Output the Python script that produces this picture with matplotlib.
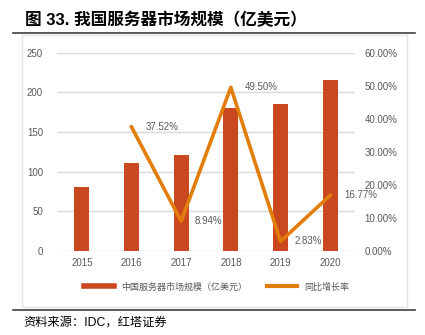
import matplotlib.pyplot as plt
from matplotlib.lines import Line2D
from matplotlib.patches import Rectangle
from matplotlib.ticker import FuncFormatter

plt.rcParams['font.family'] = ['Liberation Sans', 'Noto Sans CJK SC', 'DejaVu Sans']

years = ['2015', '2016', '2017', '2018', '2019', '2020']
market_size = [80.3, 110.4, 120.3, 179.8, 184.9, 215.9]
growth_years = ['2016', '2017', '2018', '2019', '2020']
growth = [37.52, 8.94, 49.50, 2.83, 16.77]

bar_color = '#C9481F'
line_color = '#E27D0C'
text_gray = '#595959'
grid_gray = '#D9D9D9'

fig = plt.figure(figsize=(4.25, 3.35), dpi=100)
ax = fig.add_axes([0.1341, 0.2516, 0.7012, 0.5911])

x = list(range(len(years)))
ax.bar(x, market_size, width=0.3, color=bar_color, zorder=2)
ax.set_xlim(-0.5, len(years) - 0.5)
ax.set_ylim(0, 250)
ax.set_yticks([0, 50, 100, 150, 200, 250])
ax.set_xticks(x)
ax.set_xticklabels(years)
ax.grid(axis='y', color=grid_gray, linewidth=1, zorder=0)
ax.tick_params(length=0, labelsize=7, colors=text_gray, pad=5)
ax.tick_params(axis='y', pad=10)
for s in ax.spines.values():
    s.set_visible(False)

ax2 = ax.twinx()
gx = [years.index(y) for y in growth_years]
ax2.plot(gx, [g / 100 for g in growth], color=line_color, linewidth=2.6, zorder=3)
ax2.set_ylim(0, 0.6)
ax2.set_yticks([0, 0.1, 0.2, 0.3, 0.4, 0.5, 0.6])
ax2.yaxis.set_major_formatter(FuncFormatter(lambda v, p: f'{v * 100:.2f}%'))
ax2.tick_params(length=0, labelsize=7, colors=text_gray, pad=7)
for s in ax2.spines.values():
    s.set_visible(False)
for xi, g in zip(gx, growth):
    ax2.annotate(f'{g:.2f}%', (xi, g / 100), xytext=(10, 0), textcoords='offset points',
                 va='center', ha='left', fontsize=7, color=text_gray)

# frame and rules
fig.add_artist(Rectangle((22 / 425, 1 - 306.7 / 335), 384.7 / 425, 271.7 / 335,
                         transform=fig.transFigure, fill=False,
                         edgecolor='#E3E3E3', linewidth=1))
for yy in (33, 310):
    fig.add_artist(Line2D([13 / 425, 415 / 425], [1 - yy / 335] * 2,
                          transform=fig.transFigure, color='#404040', linewidth=1.2))

fig.text(25 / 425, 1 - 20 / 335, '图 33. 我国服务器市场规模（亿美元）',
         fontsize=12, fontweight='bold', va='center', ha='left', color='black')
fig.text(23 / 425, 1 - 323 / 335, '资料来源：IDC，红塔证券',
         fontsize=8.8, va='center', ha='left', color='black')

handles = [Line2D([], [], color=bar_color, linewidth=4),
           Line2D([], [], color=line_color, linewidth=3)]
fig.legend(handles, ['中国服务器市场规模（亿美元）', '同比增长率'],
           loc='center', bbox_to_anchor=(0.51, 1 - 287 / 335), ncol=2,
           frameon=False, fontsize=6.5, handlelength=3.3, columnspacing=2.2,
           labelcolor=text_gray)

fig.savefig('out.png', dpi=100)
